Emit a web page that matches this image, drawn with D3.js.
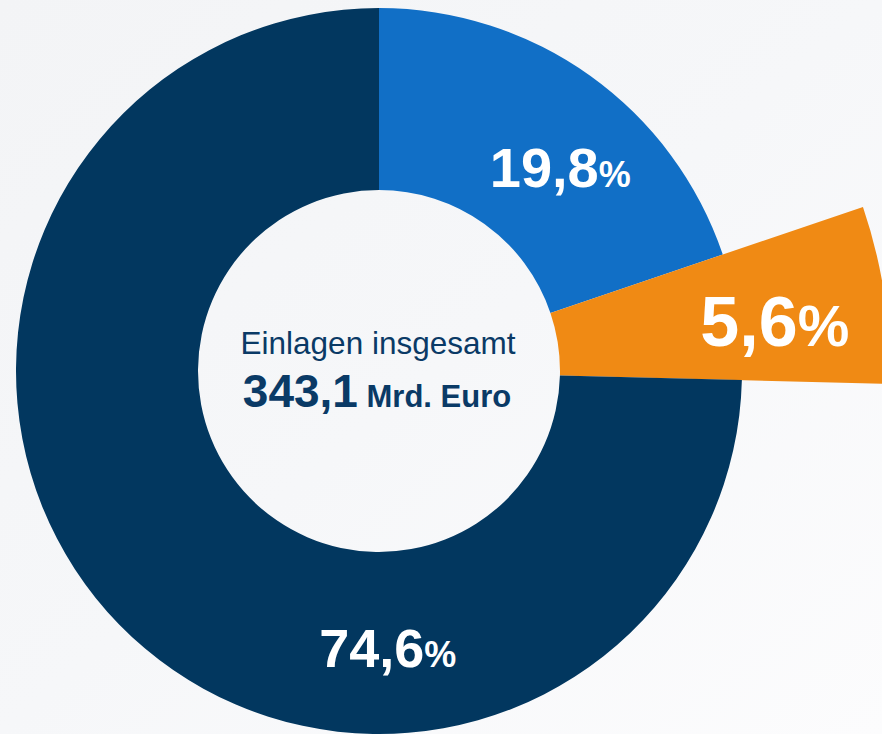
<!DOCTYPE html>
<html>
  <head>
    <meta charset="utf-8">
    <title>Einlagen insgesamt</title>
    <style>
      body { margin: 0; overflow: hidden; }
      svg { display: block; }
    </style>
  </head>
  <body>
    <script src="https://d3js.org/d3.v7.min.js"></script>
    <svg id="chart" width="882" height="734"></svg>
    <script>
      // data
      const categories = ['Anteil A', 'Anteil B', 'Anteil C']
      const shares = [19.8, 5.6, 74.6]
      const shareLabels = ['19,8', '5,6', '74,6']
      const totalLabel = '343,1'
      const totalUnit = 'Mrd. Euro'
      const totalTitle = 'Einlagen insgesamt'

      const width = 882,
            height = 734
      const cx = 379, cy = 371
      const inner = 181, outer = 363
      const font = '"Liberation Sans", Arial, sans-serif'

      const colors = d3.scaleOrdinal(categories, ['#116fc6', '#f08a14', '#02375f'])

      // the small slice sticks out further than the others
      const outerFor = i => i === 1 ? 511 : outer
      // label placement: angle (deg, clockwise from top), radius, size of digits / percent sign
      const labelLayout = [
        { angle: 41.6, r: 273, size: 56, pct: 36 },
        { angle: 82.7, r: 399, size: 70, pct: 58 },
        { angle: 178.2, r: 277, size: 54, pct: 36 }
      ]

      const svg = d3.select('#chart')

      const defs = svg.append('defs')
      const grad = defs.append('linearGradient')
          .attr('id', 'bg')
          .attr('x1', 0).attr('y1', 0).attr('x2', 1).attr('y2', 1)
      grad.append('stop').attr('offset', 0).attr('stop-color', '#f3f4f6')
      grad.append('stop').attr('offset', 0.5).attr('stop-color', '#f6f7f9')
      grad.append('stop').attr('offset', 1).attr('stop-color', '#fcfcfd')

      svg.append('rect')
          .attr('width', width)
          .attr('height', height)
          .attr('fill', 'url(#bg)')

      const pie = d3.pie().sort(null).value(d => d)
      const arcs = pie(shares)

      const g = svg.append('g').attr('transform', `translate(${cx},${cy})`)

      g.selectAll('path')
        .data(arcs)
        .join('path')
          .attr('d', (d, i) => d3.arc().innerRadius(inner).outerRadius(outerFor(i))(d))
          .attr('fill', (d, i) => colors(categories[i]))

      const labels = g.selectAll('text.pct')
        .data(arcs)
        .join('text')
          .attr('class', 'pct')
          .attr('x', (d, i) => labelLayout[i].r * Math.sin(labelLayout[i].angle * Math.PI / 180))
          .attr('y', (d, i) => -labelLayout[i].r * Math.cos(labelLayout[i].angle * Math.PI / 180)
            + labelLayout[i].size * 0.36)
          .attr('text-anchor', 'middle')
          .style('font-family', font)
          .style('font-weight', 'bold')
          .style('fill', '#fff')

      labels.append('tspan')
          .style('font-size', (d, i) => labelLayout[i].size + 'px')
          .text((d, i) => shareLabels[i])
      labels.append('tspan')
          .style('font-size', (d, i) => labelLayout[i].pct + 'px')
          .text('%')

      // centre text
      g.append('text')
          .attr('x', -1)
          .attr('y', -17)
          .attr('text-anchor', 'middle')
          .style('font-family', font)
          .style('font-size', '31.5px')
          .style('fill', '#0a3a66')
          .text(totalTitle)

      const total = g.append('text')
          .attr('x', -2)
          .attr('y', 36)
          .attr('text-anchor', 'middle')
          .style('font-family', font)
          .style('font-weight', 'bold')
          .style('fill', '#0a3a66')
      total.append('tspan').style('font-size', '46px').text(totalLabel)
      total.append('tspan').style('font-size', '31px').text(' ' + totalUnit)
    </script>
  </body>
</html>
